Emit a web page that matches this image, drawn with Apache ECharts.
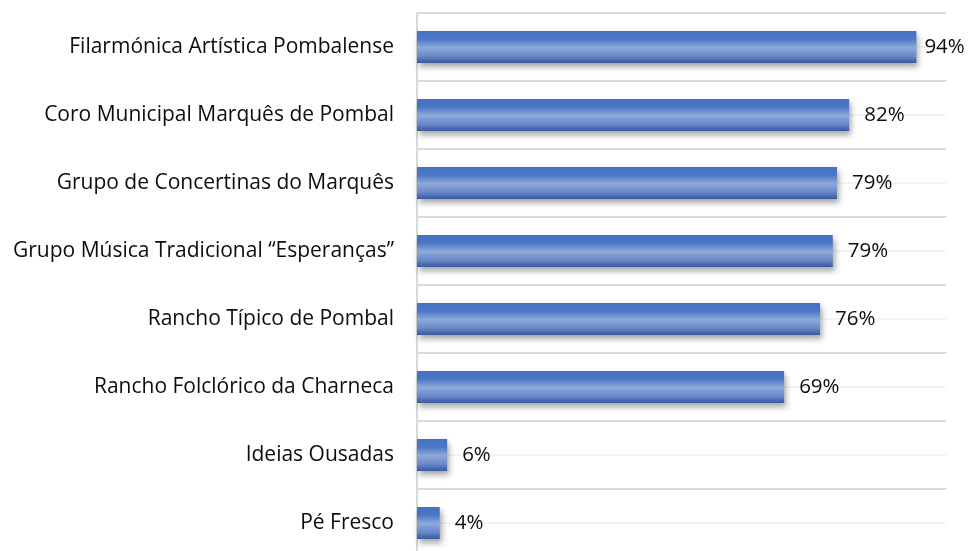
<!DOCTYPE html>
<html>
<head>
<meta charset="utf-8">
<script src="https://cdn.jsdelivr.net/npm/echarts@6/dist/echarts.min.js"></script>
<style>
html,body{margin:0;padding:0;background:#fff;overflow:hidden;}
#chart{width:969px;height:560px;}
</style>
</head>
<body>
<div id="chart"></div>
<script>
var categories = [
  'Filarmónica Artística Pombalense',
  'Coro Municipal Marquês de Pombal',
  'Grupo de Concertinas do Marquês',
  'Grupo Música Tradicional \u201cEsperanças\u201d',
  'Rancho Típico de Pombal',
  'Rancho Folclórico da Charneca',
  'Ideias Ousadas',
  'Pé Fresco'
];
var values = [0.944, 0.817, 0.794, 0.786, 0.762, 0.694, 0.057, 0.043];

var FONT = 'Open Sans';
var chart = echarts.init(document.getElementById('chart'), null, {renderer: 'canvas'});

var barData = values.map(function (v, i) {
  var d = {value: v};
  if (i === 0) d.label = {distance: 8};
  return d;
});

var option = {
  animation: false,
  backgroundColor: '#ffffff',
  grid: {left: 417, right: 23, top: 13, bottom: 3, containLabel: false},
  xAxis: {
    type: 'value', min: 0, max: 1,
    show: false
  },
  yAxis: {
    type: 'category',
    inverse: true,
    data: categories,
    axisLine: {show: true, lineStyle: {color: '#d9d9d9', width: 2}},
    axisTick: {show: false},
    axisLabel: {color: '#0d0d0d', fontFamily: FONT, fontSize: 21, margin: 23},
    splitLine: {show: true, lineStyle: {color: '#d9d9d9', width: 2}}
  },
  series: [
    {
      type: 'line',
      data: [],
      z: 1,
      silent: true,
      markLine: {
        z: 1,
        silent: true,
        symbol: ['none', 'none'],
        label: {show: false},
        lineStyle: {color: '#efefef', width: 1.5, type: 'solid'},
        data: categories.map(function (c) { return {yAxis: c}; })
      }
    },
    {
      type: 'bar',
      z: 3,
      barWidth: 32,
      data: barData,
      itemStyle: {
        color: new echarts.graphic.LinearGradient(0, 0, 0, 1, [
          {offset: 0, color: '#4472c4'},
          {offset: 0.25, color: '#4a77c7'},
          {offset: 0.52, color: '#8eaad9'},
          {offset: 0.78, color: '#6989c8'},
          {offset: 1, color: '#3a5aa0'}
        ]),
        shadowColor: 'rgba(0,0,0,0.35)',
        shadowBlur: 6,
        shadowOffsetX: 2,
        shadowOffsetY: 4
      },
      label: {
        show: true,
        position: 'right',
        distance: 15,
        color: '#0d0d0d',
        fontFamily: FONT,
        fontSize: 20.5,
        formatter: function (p) { return Math.round(p.value * 100) + '%'; }
      }
    }
  ]
};
chart.setOption(option);
</script>
</body>
</html>
